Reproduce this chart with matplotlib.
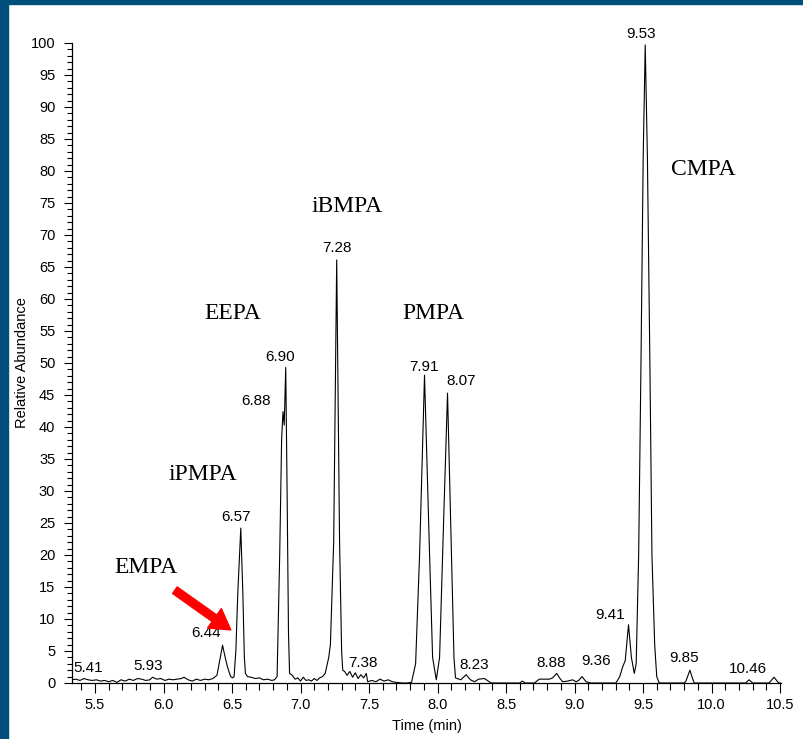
import matplotlib
matplotlib.use('Agg')
import matplotlib.pyplot as plt
from matplotlib.patches import Rectangle
from matplotlib.ticker import MultipleLocator

# chromatogram trace (time in min, relative abundance)
rt = [5.332, 5.36, 5.39, 5.42, 5.45, 5.48, 5.51, 5.54, 5.57, 5.60, 5.63, 5.66, 5.69, 5.72,
      5.75, 5.78, 5.81, 5.84, 5.87, 5.90, 5.92, 5.95, 5.98, 6.01, 6.04, 6.07, 6.10, 6.13,
      6.15, 6.18, 6.21, 6.24, 6.27, 6.30, 6.33, 6.36, 6.39, 6.41, 6.431, 6.45, 6.467, 6.49,
      6.504, 6.515, 6.528, 6.542, 6.564, 6.579, 6.59, 6.598, 6.613, 6.64, 6.67, 6.70, 6.73,
      6.76, 6.79, 6.81, 6.829, 6.848, 6.862, 6.872, 6.881, 6.892, 6.902, 6.912, 6.92, 6.94,
      6.96, 6.98, 7.00, 7.02, 7.04, 7.06, 7.08, 7.10, 7.12, 7.14, 7.16, 7.18, 7.206, 7.218,
      7.242, 7.264, 7.285, 7.30, 7.308, 7.322, 7.34, 7.36, 7.38, 7.40, 7.42, 7.44, 7.46,
      7.48, 7.49, 7.52, 7.55, 7.58, 7.61, 7.64, 7.67, 7.70, 7.74, 7.78, 7.81, 7.84, 7.869,
      7.905, 7.942, 7.964, 7.991, 8.015, 8.044, 8.073, 8.102, 8.12, 8.131, 8.17, 8.209, 8.24,
      8.27, 8.30, 8.343, 8.37, 8.391, 8.45, 8.55, 8.60, 8.619, 8.64, 8.707, 8.743, 8.78,
      8.816, 8.84, 8.870, 8.89, 8.913, 8.95, 8.986, 9.011, 9.03, 9.055, 9.084, 9.12, 9.20,
      9.302, 9.33, 9.351, 9.370, 9.394, 9.415, 9.436, 9.45, 9.468, 9.485, 9.501, 9.516,
      9.532, 9.550, 9.565, 9.585, 9.60, 9.618, 9.70, 9.80, 9.813, 9.842, 9.86, 9.873, 10.0,
      10.25, 10.274, 10.30, 10.42, 10.456, 10.49, 10.51]
abundance = [0.5, 0.6, 0.4, 0.7, 0.5, 0.4, 0.5, 0.3, 0.4, 0.2, 0.4, 0.1, 0.5, 0.3,
             0.6, 0.4, 0.7, 0.6, 0.4, 0.5, 0.9, 0.6, 0.7, 0.4, 0.6, 0.5, 0.6, 0.7,
             0.9, 0.5, 0.3, 0.6, 0.4, 0.6, 0.5, 0.7, 1.2, 3.5, 5.9, 4.0, 2.5, 1.0,
             0.8, 1.0, 5.0, 14.0, 24.2, 14.0, 4.0, 1.5, 1.0, 0.9, 0.7, 0.8, 0.5,
             0.6, 0.4, 0.5, 1.0, 20.0, 38.0, 42.4, 40.3, 49.3, 30.0, 8.0, 1.5, 1.2,
             0.6, 0.8, 0.3, 0.9, 0.4, 0.5, 0.3, 0.7, 0.4, 0.8, 1.0, 1.5, 4.0, 6.0,
             22.0, 66.1, 22.0, 5.0, 2.0, 1.8, 1.2, 1.8, 0.9, 1.6, 0.7, 1.3, 0.8,
             1.5, 0.2, 0.4, 0.2, 0.6, 0.3, 0.5, 0.2, 0.1, 0.0, 0.0, 0.1, 3.0, 20.0,
             48.1, 20.0, 4.0, 0.5, 4.0, 25.0, 45.3, 20.0, 4.0, 0.8, 0.5, 1.3, 0.5,
             0.2, 0.6, 0.7, 0.3, 0.0, 0.0, 0.0, 0.0, 0.3, 0.0, 0.0, 0.6, 0.6,
             0.6, 0.8, 1.5, 0.8, 0.2, 0.3, 0.5, 0.2, 0.4, 1.0, 0.2, 0.0, 0.0,
             0.0, 1.0, 2.5, 3.5, 9.1, 4.0, 1.5, 3.0, 20.0, 50.0, 82.0, 99.7,
             82.0, 50.0, 20.0, 6.0, 1.0, 0.0, 0.0, 0.0, 0.3, 2.0, 0.8, 0.0, 0.0,
             0.0, 0.5, 0.0, 0.0, 0.9, 0.0, 0.0]

# retention time labels and where they sit
peak_labels = ['5.41', '5.93', '6.44', '6.57', '6.88', '6.90', '7.28', '7.38', '7.91',
               '8.07', '8.23', '8.88', '9.36', '9.41', '9.53', '9.85', '10.46']
peak_lx = [5.451, 5.888, 6.307, 6.526, 6.679, 6.853, 7.264, 7.456, 7.898,
           8.175, 8.270, 8.833, 9.157, 9.259, 9.487, 9.800, 10.269]
peak_ly = [2.3, 2.7, 7.8, 26.0, 44.1, 51.0, 68.0, 3.2, 49.4,
           47.2, 2.8, 3.2, 3.5, 10.6, 101.4, 3.9, 2.2]

# compound names
compounds = ['EMPA', 'iPMPA', 'EEPA', 'iBMPA', 'PMPA', 'CMPA']
comp_x = [5.872, 6.287, 6.506, 7.337, 7.971, 9.939]
comp_y = [18.0, 32.5, 57.7, 74.5, 57.7, 80.2]

plt.rcParams['font.family'] = ['Liberation Sans', 'DejaVu Sans']

fig = plt.figure(figsize=(8.04, 7.39), dpi=100)
fig.patches.append(Rectangle((0, 0), 8 / 804, 1, transform=fig.transFigure,
                             color='#004f7a', zorder=0))
fig.patches.append(Rectangle((0, 1 - 4 / 739), 1, 4 / 739, transform=fig.transFigure,
                             color='#004f7a', zorder=0))

ax = fig.add_axes([72 / 804, 1 - 683 / 739, (781 - 72) / 804, (683 - 43) / 739])
ax.plot(rt, abundance, color='black', lw=0.8)

ax.set_xlim(5.332, 10.507)
ax.set_ylim(0, 100)
ax.spines['top'].set_visible(False)
ax.spines['right'].set_visible(False)
ax.spines['left'].set_linewidth(0.9)
ax.spines['bottom'].set_linewidth(0.9)

ax.xaxis.set_major_locator(MultipleLocator(0.5))
ax.xaxis.set_minor_locator(MultipleLocator(0.1))
ax.yaxis.set_major_locator(MultipleLocator(5))
ax.yaxis.set_minor_locator(MultipleLocator(1))
ax.tick_params(axis='x', which='major', length=7, width=0.8, labelsize=10.5, pad=3.5)
ax.tick_params(axis='x', which='minor', length=5, width=0.8)
ax.tick_params(axis='y', which='major', length=6, width=0.8, labelsize=10.5, pad=6)
ax.tick_params(axis='y', which='minor', length=3.5, width=0.8)

ax.set_xlabel('Time (min)', fontsize=10.5, labelpad=5)
ax.set_ylabel('Relative Abundance', fontsize=10.5)
ax.yaxis.set_label_coords(-0.0606, 0.5)

for lab, x, y in zip(peak_labels, peak_lx, peak_ly):
    ax.text(x, y, lab, ha='center', va='center', fontsize=11, clip_on=False)

for name, x, y in zip(compounds, comp_x, comp_y):
    ax.text(x, y, name, ha='center', va='center', fontsize=17,
            family=['Liberation Serif', 'DejaVu Serif'])

ax.annotate('', xy=(6.491, 8.3), xytext=(6.083, 14.5),
            arrowprops=dict(arrowstyle='simple,head_length=0.8,head_width=0.95,tail_width=0.32',
                            color='red', mutation_scale=18, shrinkA=0, shrinkB=0))

fig.savefig('out.png', dpi=100)
